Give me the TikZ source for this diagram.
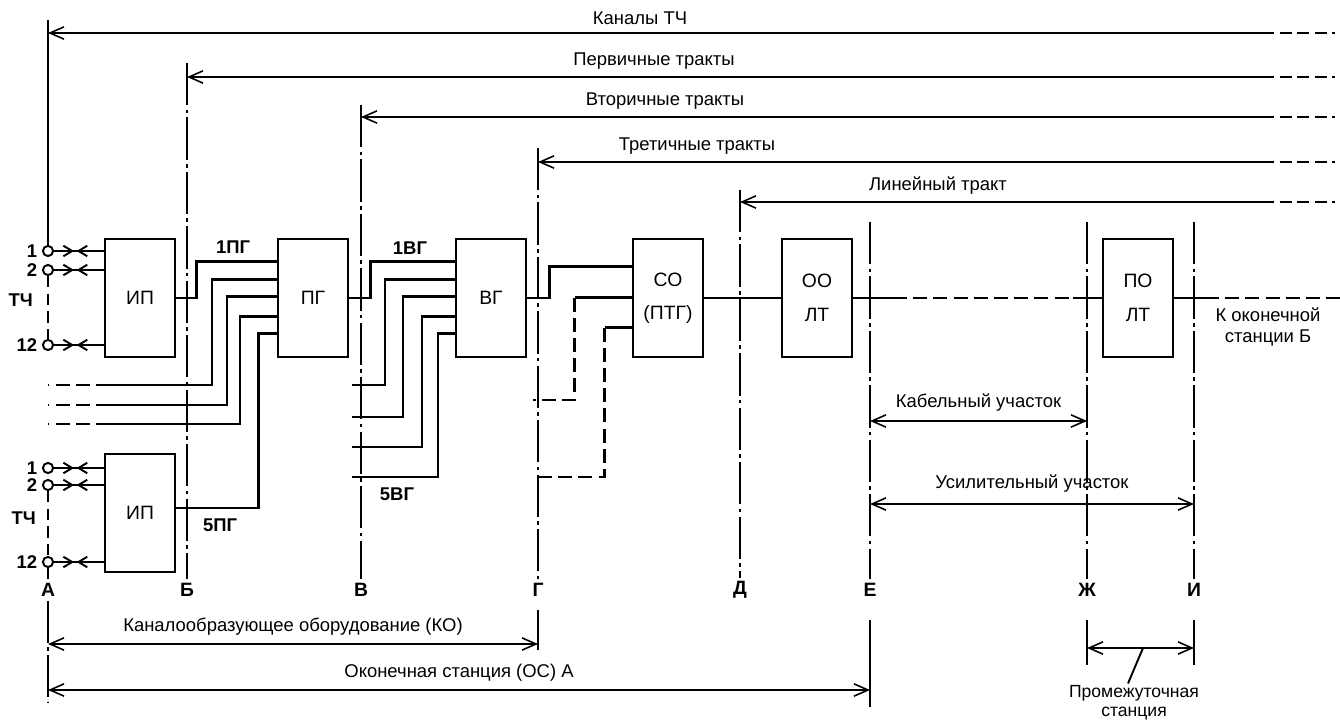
\documentclass[tikz,border=0pt]{standalone}
\usepackage{fontspec}
\setmainfont{Liberation Sans}
\usetikzlibrary{arrows.meta, positioning, calc}

\begin{document}
\begin{tikzpicture}[
    x=0.02cm, y=-0.02cm,
    font=\fontsize{10.5}{12}\selectfont,
    block/.style={draw, line width=1.6pt, minimum width=1.4cm, minimum height=2.36cm, inner sep=0pt, align=center, font=\fontsize{11}{19}\selectfont},
    term/.style={circle, draw, line width=1.1pt, minimum size=5.8pt, inner sep=0pt},
    letter/.style={font=\fontsize{11}{12}\selectfont\bfseries, inner sep=2pt},
    mark label/.style={font=\fontsize{10.5}{12}\selectfont\bfseries},
    wire/.style={line width=1.6pt},
    dwire/.style={line width=1.6pt, dash pattern=on 8pt off 3.5pt},
    bound/.style={line width=1.1pt, dash pattern=on 24pt off 2.5pt on 2pt off 2.5pt},
    limit/.style={line width=1.1pt},
    barb/.tip={Straight Barb[length=8pt,width=7pt]},
    span/.style={barb-barb, line width=0.9pt},
    trakt/.style={barb-, line width=0.9pt},
    tail/.style={line width=0.9pt, dash pattern=on 7pt off 3pt},
    tarr/.style={-{Straight Barb[length=5pt,width=6pt]}, line width=1.1pt}
]
    \useasboundingbox (0,0) rectangle (1340,720);

    % Equipment blocks
    \node[block] (ip1) at (140,298) {ИП};
    \node[block] (ip2) at (140,513) {ИП};
    \node[block] (pg) at (313,298) {ПГ};
    \node[block] (vg) at (491,298) {ВГ};
    \node[block] (so) at (668,298) {СО\\(ПТГ)};
    \node[block] (oo) at (817,298) {ОО\\ЛТ};
    \node[block] (po) at (1138,298) {ПО\\ЛТ};

    % Boundaries
    \coordinate (topA) at (48,20);
    \foreach \b/\x/\t in {B/187/63, V/361/105, G/538/148, D/740/190, E/870/222, Zh/1087/222, I/1194/222}
        \coordinate (top\b) at (\x,\t);
    \foreach \b/\x/\l in {A/48/А, B/187/Б, V/361/В, G/538/Г, D/740/Д, E/870/Е, Zh/1087/Ж, I/1194/И}
        \node[letter] (l\b) at (\x,590) {\l};
    \foreach \b in {B,V,G,D,E,Zh,I}
        \draw[bound] (top\b) -- (l\b.north);

    % Transmission paths
    \foreach \b/\y/\lx/\txt in {A/33/640/Каналы ТЧ, B/77/654/Первичные тракты, V/117/665/Вторичные тракты, G/162/697/Третичные тракты, D/202/938/Линейный тракт} {
        \coordinate (end\b) at (1335,\y);
        \coordinate (dash\b) at (1262,\y);
        \draw[trakt] (top\b |- end\b) -- (dash\b);
        \draw[tail] (dash\b) -- (end\b);
        \node[above=1pt] (txt\b) at (\lx,\y) {\txt};
    }

    % Channel terminals
    \foreach \t/\n/\y in {a1/1/251, a2/2/270, a12/12/345, b1/1/468, b2/2/485, b12/12/562} {
        \node[term] (t\t) at (48,\y) {};
        \node[mark label, left=1.5pt of t\t, inner sep=1pt] (n\t) {\n};
    }
    \node[mark label, anchor=east] (tcha) at (39,300) {ТЧ};
    \node[mark label, anchor=east] (tchb) at (42,518) {ТЧ};
    \foreach \t/\blk in {a1/ip1, a2/ip1, a12/ip1, b1/ip2, b2/ip2, b12/ip2} {
        \draw[limit] (t\t.east) -- (\blk.west |- t\t);
        \draw[tarr] (t\t.east) -- ++(20,0);
        \draw[tarr] (\blk.west |- t\t) -- ++(-27,0);
    }
    \draw[limit] (topA) -- (ta1.north);
    \draw[limit, dash pattern=on 6.5pt off 3.5pt] (ta2.south) -- (ta12.north);
    \draw[limit, dash pattern=on 6.5pt off 3.5pt] (tb2.south) -- (tb12.north);
    \draw[limit] (tb12.south) -- (lA.north);
    \coordinate (lowA) at (48,703);
    \draw[bound] (lA.south) -- (lowA);

    % Group inputs
    \foreach \i/\dy in {1/24, 2/42, 3/59, 4/79, 5/96} {
        \coordinate (pg\i) at ($(pg.north west)+(0,\dy)$);
        \coordinate (vg\i) at ($(vg.north west)+(0,\dy)$);
    }
    \draw[wire] (ip1.east) -- ++(20,0) |- (pg1);
    \foreach \i/\x/\y in {2/212/385, 3/227/405, 4/240/424} {
        \coordinate (st\i) at (110,\y);
        \coordinate (sd\i) at (48,\y);
        \draw[wire] (pg\i) -| (\x,\y) -- (st\i);
        \draw[dwire] (st\i) -- (sd\i);
    }
    \coordinate (ip2out) at ($(ip2.east)+(0,-5)$);
    \draw[wire] (ip2out) -- ++(82,0) |- (pg5);
    \node[mark label] (l1pg) at (233,247) {1ПГ};
    \node[mark label] (l5pg) at (220,525) {5ПГ};

    \draw[wire] (pg.east) -- ++(21,0) |- (vg1);
    \foreach \i/\x/\y in {2/385/385, 3/403/417, 4/422/447, 5/438/477} {
        \coordinate (vs\i) at (352,\y);
        \draw[wire] (vg\i) -| (\x,\y) -- (vs\i);
    }
    \node[mark label] (l1vg) at (410,248) {1ВГ};
    \node[mark label] (l5vg) at (397,494) {5ВГ};

    \coordinate (so1) at ($(so.north west)+(0,29)$);
    \coordinate (so2) at ($(so.north west)+(0,60)$);
    \coordinate (so3) at ($(so.north west)+(0,90)$);
    \coordinate (gs1) at (533,400);
    \coordinate (gs2) at (533,477);
    \draw[wire] (vg.east) -- ++(22,0) |- (so1);
    \draw[wire] (so2) -- ++(-57,0) coordinate (so2c);
    \draw[dwire] (so2c) |- (gs1);
    \draw[wire] (so3) -- ++(-27,0) coordinate (so3c);
    \draw[dwire] (so3c) |- (gs2);

    % Line path
    \coordinate (cab1) at (893,298);
    \coordinate (cab2) at (1073,298);
    \coordinate (out1) at (1205,298);
    \coordinate (out2) at (1340,298);
    \draw[wire] (so.east) -- (oo.west);
    \draw[wire] (oo.east) -- (cab1);
    \draw[dwire] (cab1) -- (cab2);
    \draw[wire] (cab2) -- (po.west);
    \draw[wire] (po.east) -- (out1);
    \draw[dwire] (out1) -- (out2);
    \node[align=center, font=\fontsize{10.5}{11.5}\selectfont] (toB) at (1268,327) {К оконечной\\станции Б};

    % Sections
    \coordinate (kE) at (870,421);
    \coordinate (kZh) at (1087,421);
    \draw[span] (kE) -- node[above=2pt] (tkab) {Кабельный участок} (kZh);
    \coordinate (uE) at (870,504);
    \coordinate (uI) at (1194,504);
    \draw[span] (uE) -- node[above=3pt] (tus) {Усилительный участок} (uI);

    \coordinate (G1) at (538,610);
    \coordinate (G2) at (538,650);
    \draw[limit] (G1) -- (G2);
    \coordinate (E1) at (870,620);
    \coordinate (E2) at (870,707);
    \draw[limit] (E1) -- (E2);
    \coordinate (Zh1) at (1087,620);
    \coordinate (Zh2) at (1087,665);
    \draw[limit] (Zh1) -- (Zh2);
    \coordinate (I1) at (1194,620);
    \coordinate (I2) at (1194,665);
    \draw[limit] (I1) -- (I2);

    \coordinate (koA) at (48,644);
    \coordinate (koG) at (538,644);
    \draw[span] (koA) -- node[above=1pt] (tko) {Каналообразующее оборудование (КО)} (koG);
    \coordinate (osA) at (48,690);
    \coordinate (osE) at (870,690);
    \draw[span] (osA) -- node[above=1pt] (tos) {Оконечная станция (ОС) А} (osE);

    \coordinate (prZh) at (1087,648);
    \coordinate (prI) at (1194,648);
    \draw[span] (prZh) -- (prI);
    \coordinate (pm) at (1143,648);
    \node[align=center, font=\fontsize{10}{11}\selectfont, inner sep=1pt] (tprom) at (1134,703) {Промежуточная\\станция};
    \draw[limit] (pm) -- ($(tprom.north)+(-6,0)$);
\end{tikzpicture}
\end{document}
